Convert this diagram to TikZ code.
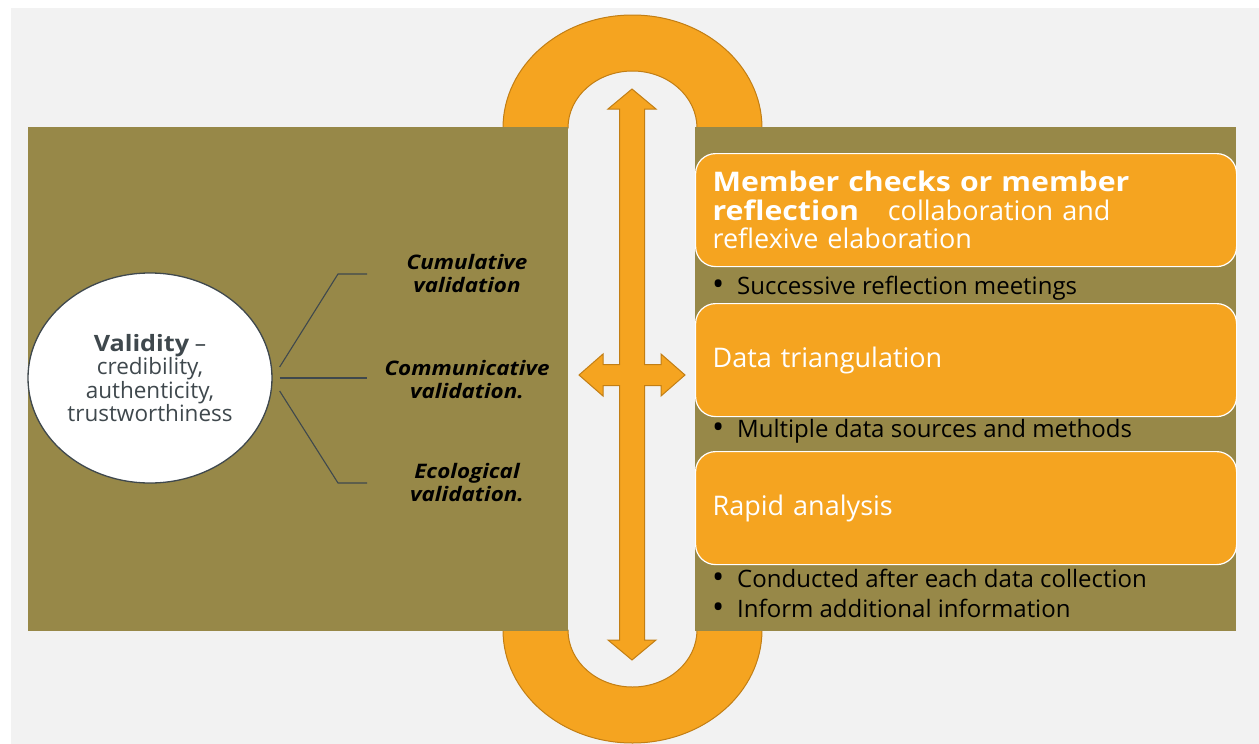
\documentclass[tikz,border=0pt]{standalone}
\usepackage{fontspec}
\setmainfont{Open Sans}[
  BoldFeatures={FakeStretch=1.12},
  BoldItalicFeatures={FakeStretch=1.12}]
\usetikzlibrary{shapes.geometric}
\definecolor{bggray}{HTML}{F2F2F2}
\definecolor{olive}{HTML}{978848}
\definecolor{amber}{HTML}{F5A420}
\definecolor{amberline}{HTML}{C27E14}
\definecolor{slate}{HTML}{3F484D}
\newcommand{\bulmark}{\makebox[25pt][l]{\raisebox{-1.8pt}{\scalebox{1.35}{\textbullet}}}}
\tikzset{
  panel/.style={fill=olive, draw=none},
  ring/.style={fill=amber, draw=amberline, line width=1pt},
  crossarrow/.style={fill=amber, draw=amberline, line width=1pt, line join=miter},
  validity/.style={ellipse, fill=white, draw=slate, line width=1.3pt,
    minimum width=244pt, minimum height=210pt, inner sep=0pt,
    align=center, text=slate, font=\fontsize{22.5}{23.5}\selectfont},
  conn/.style={draw=slate, line width=1.1pt},
  vlabel/.style={align=center, inner sep=0pt, text=black,
    font=\fontsize{20}{23}\selectfont\bfseries\itshape},
  infobox/.style={rounded corners=20pt, fill=amber, draw=white, line width=1.2pt,
    minimum width=541pt, minimum height=113pt, text width=507pt,
    inner xsep=17pt, inner ysep=0pt, align=left, text=white,
    font=\fontsize{27}{28.5}\selectfont, anchor=north west},
  bullet/.style={anchor=base west, inner sep=0pt, text=black,
    font=\fontsize{24}{28}\selectfont}
}
\begin{document}
\begin{tikzpicture}[x=1pt,y=-1pt]
\useasboundingbox (0,0) rectangle (1259,744);
\fill[white] (0,0) rectangle (1259,744);
\fill[bggray] (11,8) rectangle (1259,744);

% upper and lower half rings
\path[ring] (503,128) arc[start angle=180, end angle=0, x radius=129.5pt, y radius=113pt]
  -- (697,128) arc[start angle=0, end angle=180, x radius=64.5pt, y radius=57pt] -- cycle;
\path[ring] (503,630) arc[start angle=180, end angle=360, x radius=129.5pt, y radius=113pt]
  -- (697,630) arc[start angle=360, end angle=180, x radius=64.5pt, y radius=57pt] -- cycle;

% side panels
\fill[panel] (28,127) rectangle (568,631);
\fill[panel] (695,127) rectangle (1236,631);

% validity ellipse and its three branches
\node[validity] (val) at (150,378)
  {\textbf{Validity} –\\credibility,\\authenticity,\\trustworthiness};
\node[vlabel] (lab1) at (467,273.5) {Cumulative\\validation};
\node[vlabel] (lab2) at (467,379.5) {Communicative\\validation.};
\node[vlabel] (lab3) at (467,482.5) {Ecological\\validation.};
\coordinate (k1) at (338,274);
\coordinate (e1) at (367,274);
\coordinate (e2) at (367,378);
\coordinate (k3) at (338,483);
\coordinate (e3) at (367,483);
\draw[conn] ([shift={(7,-11)}]val.east) -- (k1) -- (e1);
\draw[conn] ([shift={(7,0)}]val.east) -- (e2);
\draw[conn] ([shift={(7,13)}]val.east) -- (k3) -- (e3);

% strategy boxes with their bullet points
\node[infobox] (b1) at (695,153)
  {\textbf{Member checks or member}\\\textbf{reflection}\hspace{29pt}collaboration and\\reflexive elaboration};
\node[bullet] (s1) at (712,294) {\bulmark Successive reflection meetings};
\node[infobox] (b2) at (695,303) {Data triangulation};
\node[bullet] (s2) at (712,437) {\bulmark Multiple data sources and methods};
\node[infobox] (b3) at (695,451) {Rapid analysis};
\node[bullet] (s3) at (712,587) {\bulmark Conducted after each data collection};
\node[bullet] (s4) at (712,617) {\bulmark Inform additional information};

% four-headed cross arrow in the channel
\path[crossarrow] (632,89) -- (656,109) -- (644.5,109) -- (644.5,364.5)
  -- (661,364.5) -- (661,354) -- (685,375) -- (661,396) -- (661,385.5)
  -- (644.5,385.5) -- (644.5,640) -- (656,640) -- (632,660) -- (608,640)
  -- (619.5,640) -- (619.5,385.5) -- (603,385.5) -- (603,396) -- (579,375)
  -- (603,354) -- (603,364.5) -- (619.5,364.5) -- (619.5,109) -- (608,109) -- cycle;
\end{tikzpicture}
\end{document}
